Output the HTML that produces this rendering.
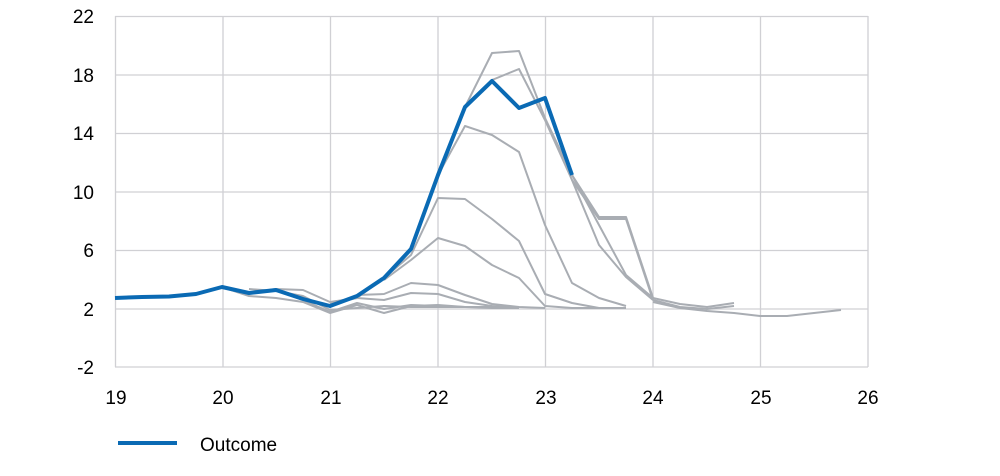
<!DOCTYPE html>
<html><head><meta charset="utf-8"><style>
body{margin:0;background:#fff;}
svg text{font-family:"Liberation Sans",sans-serif;font-size:19px;fill:#000;}
</style></head><body>
<svg width="1000" height="471" viewBox="0 0 1000 471" xmlns="http://www.w3.org/2000/svg">
<g stroke="#d0d0d4" stroke-width="1.3" fill="none">
<line x1="115" y1="16.5" x2="868" y2="16.5"/>
<line x1="115" y1="75" x2="868" y2="75"/>
<line x1="115" y1="133.5" x2="868" y2="133.5"/>
<line x1="115" y1="192" x2="868" y2="192"/>
<line x1="115" y1="250.5" x2="868" y2="250.5"/>
<line x1="115" y1="309" x2="868" y2="309"/>
<line x1="115" y1="367" x2="868" y2="367"/>
<line x1="115.5" y1="16" x2="115.5" y2="367"/>
<line x1="223" y1="16" x2="223" y2="367"/>
<line x1="330.5" y1="16" x2="330.5" y2="367"/>
<line x1="438" y1="16" x2="438" y2="367"/>
<line x1="545.5" y1="16" x2="545.5" y2="367"/>
<line x1="653" y1="16" x2="653" y2="367"/>
<line x1="760.5" y1="16" x2="760.5" y2="367"/>
<line x1="868" y1="16" x2="868" y2="367"/>
</g>
<g stroke="#a9adb3" stroke-width="2" fill="none" stroke-linejoin="round">
<polyline points="222,287 249,293 276,289 303,290 330,302 357,298 384,278 411,249 438,175 465,107 492,53 519,51 545,118 572,175 599,217 626,217 653,298 680,304 707,307 734,303"/>
<polyline points="438,175 465,107 492,80 519,69 545,120 572,180 599,219 626,219 653,300"/>
<polyline points="438,175 465,126 492,135 519,152 545,225 572,283 599,298 626,306"/>
<polyline points="384,278 411,255 438,198 465,199 492,219 519,241 545,294 572,303 599,308 626,308"/>
<polyline points="384,280 411,260 438,238 465,246 492,265 519,278 545,306 572,308 599,308"/>
<polyline points="357,295 384,294 411,283 438,285 465,295 492,304 519,307 545,308"/>
<polyline points="330,304 357,298 384,300 411,293 438,294 465,302 492,306 519,308"/>
<polyline points="303,300 330,312 357,303 384,309 411,305 438,306 465,307 492,308 519,308"/>
<polyline points="222,287 249,296 276,298 303,302 330,313 357,305 384,313 411,306 438,305 465,307 519,307"/>
<polyline points="249,289 276,291 303,296 330,310 357,308 384,306 411,307 438,307 519,307"/>
<polyline points="572,175 599,225 626,275 653,298"/>
<polyline points="572,180 599,245 626,277 653,300"/>
<polyline points="653,302 680,308 707,311 734,313 760,316 787,316 814,313 841,310"/>
<polyline points="653,300 680,307 707,309 734,306"/>
</g>
<polyline fill="none" stroke="#0a6ab4" stroke-width="4" stroke-linejoin="round" points="115,298 142,297 169,296.5 196,294 222,287 249,293 276,290 303,299 330,306 357,296 384,278 411,249 438,175 465,107 492,81 519,108 545,98 572,175"/>
<g text-anchor="end">
<text x="94" y="23">22</text>
<text x="94" y="82">18</text>
<text x="94" y="140">14</text>
<text x="94" y="199">10</text>
<text x="94" y="257">6</text>
<text x="94" y="316">2</text>
<text x="94" y="374">-2</text>
</g>
<g text-anchor="middle">
<text x="116" y="404">19</text>
<text x="223" y="404">20</text>
<text x="331" y="404">21</text>
<text x="438" y="404">22</text>
<text x="546" y="404">23</text>
<text x="653" y="404">24</text>
<text x="761" y="404">25</text>
<text x="868" y="404">26</text>
</g>
<line x1="118" y1="443" x2="177" y2="443" stroke="#0a6ab4" stroke-width="4"/>
<text x="200" y="451">Outcome</text>
</svg>
</body></html>
